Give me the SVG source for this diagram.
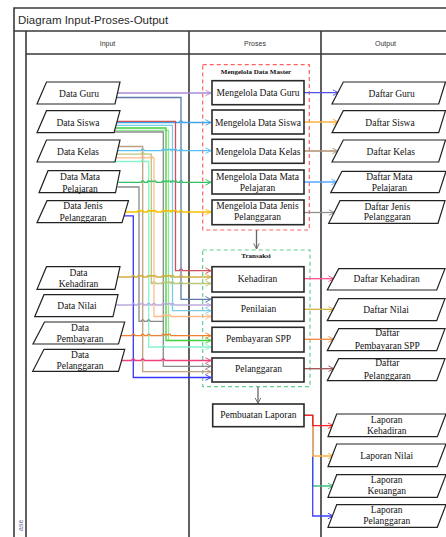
<svg xmlns="http://www.w3.org/2000/svg" width="446" height="537" viewBox="0 0 446 537">
<defs>
<style>
.frame{fill:none;stroke:#3a3a3a;stroke-width:1.6}
.title{font-family:"Liberation Sans",Arial,sans-serif;font-size:11.5px;fill:#2a2a2a}
.hdr{font-family:"Liberation Sans",Arial,sans-serif;font-size:7px;fill:#333;text-anchor:middle}
.para{fill:#fff;stroke:#222;stroke-width:1.2}
.box{fill:#fff;stroke:#2a2a2a;stroke-width:1.6}
.t{font-family:"Liberation Serif","Times New Roman",serif;font-size:9.5px;fill:#111;text-anchor:middle}
.gt{font-family:"Liberation Serif","Times New Roman",serif;font-size:7px;font-weight:bold;fill:#111;text-anchor:middle}
.grp-m{fill:none;stroke:#ff6060;stroke-width:1.2;stroke-dasharray:4 3}
.grp-t{fill:none;stroke:#60d090;stroke-width:1.2;stroke-dasharray:4 3}
.c{fill:none;stroke-width:1.3}
.ah{fill:none;stroke-width:1.3}
</style>
<marker id="m-purple" viewBox="0 0 10 10" refX="9" refY="5" markerWidth="7" markerHeight="7" markerUnits="userSpaceOnUse" orient="auto"><path d="M1,1 L9,5 L1,9" class="ah" stroke="#a98bd4"/></marker>
<marker id="m-slate" viewBox="0 0 10 10" refX="9" refY="5" markerWidth="7" markerHeight="7" markerUnits="userSpaceOnUse" orient="auto"><path d="M1,1 L9,5 L1,9" class="ah" stroke="#5b7bab"/></marker>
<marker id="m-red" viewBox="0 0 10 10" refX="9" refY="5" markerWidth="7" markerHeight="7" markerUnits="userSpaceOnUse" orient="auto"><path d="M1,1 L9,5 L1,9" class="ah" stroke="#d0505a"/></marker>
<marker id="m-blue" viewBox="0 0 10 10" refX="9" refY="5" markerWidth="7" markerHeight="7" markerUnits="userSpaceOnUse" orient="auto"><path d="M1,1 L9,5 L1,9" class="ah" stroke="#3aa6e6"/></marker>
<marker id="m-lblue" viewBox="0 0 10 10" refX="9" refY="5" markerWidth="7" markerHeight="7" markerUnits="userSpaceOnUse" orient="auto"><path d="M1,1 L9,5 L1,9" class="ah" stroke="#78cce8"/></marker>
<marker id="m-green" viewBox="0 0 10 10" refX="9" refY="5" markerWidth="7" markerHeight="7" markerUnits="userSpaceOnUse" orient="auto"><path d="M1,1 L9,5 L1,9" class="ah" stroke="#40d040"/></marker>
<marker id="m-gray" viewBox="0 0 10 10" refX="9" refY="5" markerWidth="7" markerHeight="7" markerUnits="userSpaceOnUse" orient="auto"><path d="M1,1 L9,5 L1,9" class="ah" stroke="#8a8a8a"/></marker>
<marker id="m-tan" viewBox="0 0 10 10" refX="9" refY="5" markerWidth="7" markerHeight="7" markerUnits="userSpaceOnUse" orient="auto"><path d="M1,1 L9,5 L1,9" class="ah" stroke="#c0a080"/></marker>
<marker id="m-sky" viewBox="0 0 10 10" refX="9" refY="5" markerWidth="7" markerHeight="7" markerUnits="userSpaceOnUse" orient="auto"><path d="M1,1 L9,5 L1,9" class="ah" stroke="#58c0f0"/></marker>
<marker id="m-olive" viewBox="0 0 10 10" refX="9" refY="5" markerWidth="7" markerHeight="7" markerUnits="userSpaceOnUse" orient="auto"><path d="M1,1 L9,5 L1,9" class="ah" stroke="#b8c878"/></marker>
<marker id="m-peach" viewBox="0 0 10 10" refX="9" refY="5" markerWidth="7" markerHeight="7" markerUnits="userSpaceOnUse" orient="auto"><path d="M1,1 L9,5 L1,9" class="ah" stroke="#ffbc88"/></marker>
<marker id="m-mint" viewBox="0 0 10 10" refX="9" refY="5" markerWidth="7" markerHeight="7" markerUnits="userSpaceOnUse" orient="auto"><path d="M1,1 L9,5 L1,9" class="ah" stroke="#88f4cc"/></marker>
<marker id="m-green2" viewBox="0 0 10 10" refX="9" refY="5" markerWidth="7" markerHeight="7" markerUnits="userSpaceOnUse" orient="auto"><path d="M1,1 L9,5 L1,9" class="ah" stroke="#30c060"/></marker>
<marker id="m-yellow" viewBox="0 0 10 10" refX="9" refY="5" markerWidth="7" markerHeight="7" markerUnits="userSpaceOnUse" orient="auto"><path d="M1,1 L9,5 L1,9" class="ah" stroke="#f5c000"/></marker>
<marker id="m-blue2" viewBox="0 0 10 10" refX="9" refY="5" markerWidth="7" markerHeight="7" markerUnits="userSpaceOnUse" orient="auto"><path d="M1,1 L9,5 L1,9" class="ah" stroke="#3535ff"/></marker>
<marker id="m-gold" viewBox="0 0 10 10" refX="9" refY="5" markerWidth="7" markerHeight="7" markerUnits="userSpaceOnUse" orient="auto"><path d="M1,1 L9,5 L1,9" class="ah" stroke="#d4b040"/></marker>
<marker id="m-lav" viewBox="0 0 10 10" refX="9" refY="5" markerWidth="7" markerHeight="7" markerUnits="userSpaceOnUse" orient="auto"><path d="M1,1 L9,5 L1,9" class="ah" stroke="#bcacdc"/></marker>
<marker id="m-orange" viewBox="0 0 10 10" refX="9" refY="5" markerWidth="7" markerHeight="7" markerUnits="userSpaceOnUse" orient="auto"><path d="M1,1 L9,5 L1,9" class="ah" stroke="#f08030"/></marker>
<marker id="m-pink" viewBox="0 0 10 10" refX="9" refY="5" markerWidth="7" markerHeight="7" markerUnits="userSpaceOnUse" orient="auto"><path d="M1,1 L9,5 L1,9" class="ah" stroke="#f04080"/></marker>
<marker id="m-oblue" viewBox="0 0 10 10" refX="9" refY="5" markerWidth="7" markerHeight="7" markerUnits="userSpaceOnUse" orient="auto"><path d="M1,1 L9,5 L1,9" class="ah" stroke="#5050e8"/></marker>
<marker id="m-oorange" viewBox="0 0 10 10" refX="9" refY="5" markerWidth="7" markerHeight="7" markerUnits="userSpaceOnUse" orient="auto"><path d="M1,1 L9,5 L1,9" class="ah" stroke="#ffb040"/></marker>
<marker id="m-obrown" viewBox="0 0 10 10" refX="9" refY="5" markerWidth="7" markerHeight="7" markerUnits="userSpaceOnUse" orient="auto"><path d="M1,1 L9,5 L1,9" class="ah" stroke="#b09070"/></marker>
<marker id="m-olblue" viewBox="0 0 10 10" refX="9" refY="5" markerWidth="7" markerHeight="7" markerUnits="userSpaceOnUse" orient="auto"><path d="M1,1 L9,5 L1,9" class="ah" stroke="#50a8ff"/></marker>
<marker id="m-ogray" viewBox="0 0 10 10" refX="9" refY="5" markerWidth="7" markerHeight="7" markerUnits="userSpaceOnUse" orient="auto"><path d="M1,1 L9,5 L1,9" class="ah" stroke="#909090"/></marker>
<marker id="m-opink" viewBox="0 0 10 10" refX="9" refY="5" markerWidth="7" markerHeight="7" markerUnits="userSpaceOnUse" orient="auto"><path d="M1,1 L9,5 L1,9" class="ah" stroke="#ff5090"/></marker>
<marker id="m-ogold" viewBox="0 0 10 10" refX="9" refY="5" markerWidth="7" markerHeight="7" markerUnits="userSpaceOnUse" orient="auto"><path d="M1,1 L9,5 L1,9" class="ah" stroke="#d4b040"/></marker>
<marker id="m-oorg2" viewBox="0 0 10 10" refX="9" refY="5" markerWidth="7" markerHeight="7" markerUnits="userSpaceOnUse" orient="auto"><path d="M1,1 L9,5 L1,9" class="ah" stroke="#f08840"/></marker>
<marker id="m-obrn2" viewBox="0 0 10 10" refX="9" refY="5" markerWidth="7" markerHeight="7" markerUnits="userSpaceOnUse" orient="auto"><path d="M1,1 L9,5 L1,9" class="ah" stroke="#a05050"/></marker>
<marker id="m-lred" viewBox="0 0 10 10" refX="9" refY="5" markerWidth="7" markerHeight="7" markerUnits="userSpaceOnUse" orient="auto"><path d="M1,1 L9,5 L1,9" class="ah" stroke="#ff2020"/></marker>
<marker id="m-lgreen" viewBox="0 0 10 10" refX="9" refY="5" markerWidth="7" markerHeight="7" markerUnits="userSpaceOnUse" orient="auto"><path d="M1,1 L9,5 L1,9" class="ah" stroke="#40c080"/></marker>
<marker id="m-dgray" viewBox="0 0 10 10" refX="9" refY="5" markerWidth="7" markerHeight="7" markerUnits="userSpaceOnUse" orient="auto"><path d="M1,1 L9,5 L1,9" class="ah" stroke="#666"/></marker>
</defs>
<rect width="446" height="537" fill="#fff"/>

<g id="frame">
<path class="frame" d="M14,537 V8 H446 M14,31 H446 M26,31 V537 M26,54 H446 M189,31 V537 M321,31 V537"/>
<text class="title" x="18" y="24">Diagram Input-Proses-Output</text>
<text class="hdr" x="107.5" y="46">Input</text>
<text class="hdr" x="255" y="46">Proses</text>
<text class="hdr" x="385.5" y="46">Output</text>
<text class="hdr" x="0" y="0" transform="translate(22.5,531) rotate(-90)" style="text-anchor:start;fill:#6a6aa0">ase</text>
</g>

<g id="group-master"><rect class="grp-m" x="202.7" y="64.7" width="106.6" height="165.3"/><text class="gt" x="256" y="73.5">Mengelola Data Master</text></g>
<g id="group-transaksi"><rect class="grp-t" x="202.7" y="250" width="107.3" height="136.7"/><text class="gt" x="256" y="258">Transaksi</text></g>

<g id="connectors">
<path class="c" stroke="#a98bd4" d="M117.5,93 H211" marker-end="url(#m-purple)"/>
<path class="c" stroke="#5b7bab" d="M116.5,97.5 H181 V299.3 H211" marker-end="url(#m-slate)"/>
<path class="c" stroke="#3aa6e6" d="M116.7,122.5 H179.5 a1.5,1.5 0 0 1 3,0 H211" marker-end="url(#m-blue)"/>
<path class="c" stroke="#d0505a" d="M116.7,121.3 H175.5 V270.7 H179.5 a1.5,1.5 0 0 1 3,0 H211" marker-end="url(#m-red)"/>
<path class="c" stroke="#78cce8" d="M115.6,125.3 H172.5 V310.7 H211" marker-end="url(#m-lblue)"/>
<path class="c" stroke="#90e890" d="M114.5,130.3 H168.5 V340.5"/>
<path class="c" stroke="#40d040" d="M114.8,128 H166 V340.5 H211" marker-end="url(#m-green)"/>
<path class="c" stroke="#8a8a8a" d="M113.6,132 H163.3 V366.3 H211" marker-end="url(#m-gray)"/>
<path class="c" stroke="#c0a080" d="M118.7,146.5 H142.7 V371.7 H211" marker-end="url(#m-tan)"/>
<path class="c" stroke="#58c0f0" d="M117.5,150.7 H141.2 a1.5,1.5 0 0 1 3,0 H161.8 a1.5,1.5 0 0 1 3,0 a1.5,1.5 0 0 1 3,0 a1.5,1.5 0 0 1 3,0 H171 a1.5,1.5 0 0 1 3,0 a1.5,1.5 0 0 1 3,0 H179.5 a1.5,1.5 0 0 1 3,0 H211" marker-end="url(#m-sky)"/>
<path class="c" stroke="#b8c878" d="M116.5,154.2 H141.2 a1.5,1.5 0 0 1 3,0 H151.3 V283.5 H152.5 a1.5,1.5 0 0 1 3,0 H161.8 a1.5,1.5 0 0 1 3,0 a1.5,1.5 0 0 1 3,0 a1.5,1.5 0 0 1 3,0 H171 a1.5,1.5 0 0 1 3,0 H179.5 a1.5,1.5 0 0 1 3,0 H211" marker-end="url(#m-olive)"/>
<path class="c" stroke="#ffbc88" d="M115.7,157.8 H141.2 a1.5,1.5 0 0 1 3,0 H149.8 a1.5,1.5 0 0 1 3,0 H154 V316.5 H161.8 a1.5,1.5 0 0 1 3,0 a1.5,1.5 0 0 1 3,0 a1.5,1.5 0 0 1 3,0 H211" marker-end="url(#m-peach)"/>
<path class="c" stroke="#88f4cc" d="M114.6,161.5 H141.2 a1.5,1.5 0 0 1 3,0 H148.7 V347 H161.8 a1.5,1.5 0 0 1 3,0 H211" marker-end="url(#m-mint)"/>
<path class="c" stroke="#30c060" d="M118.5,182.3 H141.2 a1.5,1.5 0 0 1 3,0 H147.2 a1.5,1.5 0 0 1 3,0 a1.5,1.5 0 0 1 3,0 a1.5,1.5 0 0 1 3,0 H161.8 a1.5,1.5 0 0 1 3,0 a1.5,1.5 0 0 1 3,0 a1.5,1.5 0 0 1 3,0 H171 a1.5,1.5 0 0 1 3,0 a1.5,1.5 0 0 1 3,0 H179.5 a1.5,1.5 0 0 1 3,0 H211" marker-end="url(#m-green2)"/>
<path class="c" stroke="#8a8a8a" d="M117.5,187 H139 V321.3 H141.2 a1.5,1.5 0 0 1 3,0 H147.2 a1.5,1.5 0 0 1 3,0 H163.3"/>
<path class="c" stroke="#f5c000" d="M126,212 H137.5 a1.5,1.5 0 0 1 3,0 a1.5,1.5 0 0 1 3,0 H147.2 a1.5,1.5 0 0 1 3,0 a1.5,1.5 0 0 1 3,0 a1.5,1.5 0 0 1 3,0 H161.8 a1.5,1.5 0 0 1 3,0 a1.5,1.5 0 0 1 3,0 a1.5,1.5 0 0 1 3,0 H171 a1.5,1.5 0 0 1 3,0 a1.5,1.5 0 0 1 3,0 H179.5 a1.5,1.5 0 0 1 3,0 H211" marker-end="url(#m-yellow)"/>
<path class="c" stroke="#3535ff" d="M123.5,215.8 H133.3 V377.5 H211" marker-end="url(#m-blue2)"/>
<path class="c" stroke="#d4b040" d="M117.5,277 H131.8 a1.5,1.5 0 0 1 3,0 H137.5 a1.5,1.5 0 0 1 3,0 a1.5,1.5 0 0 1 3,0 H147.2 a1.5,1.5 0 0 1 3,0 a1.5,1.5 0 0 1 3,0 a1.5,1.5 0 0 1 3,0 H161.8 a1.5,1.5 0 0 1 3,0 a1.5,1.5 0 0 1 3,0 a1.5,1.5 0 0 1 3,0 H171 a1.5,1.5 0 0 1 3,0 H179.5 a1.5,1.5 0 0 1 3,0 H211" marker-end="url(#m-gold)"/>
<path class="c" stroke="#bcacdc" d="M115,305 H131.8 a1.5,1.5 0 0 1 3,0 H137.5 a1.5,1.5 0 0 1 3,0 a1.5,1.5 0 0 1 3,0 H147.2 a1.5,1.5 0 0 1 3,0 H152.5 a1.5,1.5 0 0 1 3,0 H161.8 a1.5,1.5 0 0 1 3,0 a1.5,1.5 0 0 1 3,0 a1.5,1.5 0 0 1 3,0 H171 a1.5,1.5 0 0 1 3,0 H211" marker-end="url(#m-lav)"/>
<path class="c" stroke="#f08030" d="M121,335.7 H131.8 a1.5,1.5 0 0 1 3,0 H141.2 a1.5,1.5 0 0 1 3,0 H147.2 a1.5,1.5 0 0 1 3,0 H161.8 a1.5,1.5 0 0 1 3,0 a1.5,1.5 0 0 1 3,0 a1.5,1.5 0 0 1 3,0 H211" marker-end="url(#m-orange)"/>
<path class="c" stroke="#f04080" d="M121,360.5 H131.8 a1.5,1.5 0 0 1 3,0 H141.2 a1.5,1.5 0 0 1 3,0 H161.8 a1.5,1.5 0 0 1 3,0 H211" marker-end="url(#m-pink)"/>

<path class="c" stroke="#5050e8" d="M304,92.7 H338.5" marker-end="url(#m-oblue)"/>
<path class="c" stroke="#ffb040" d="M304,122 H338.5" marker-end="url(#m-oorange)"/>
<path class="c" stroke="#b09070" d="M304,151 H338" marker-end="url(#m-obrown)"/>
<path class="c" stroke="#50a8ff" d="M304,182 H337" marker-end="url(#m-olblue)"/>
<path class="c" stroke="#909090" d="M304,212.5 H334.5" marker-end="url(#m-ogray)"/>
<path class="c" stroke="#ff5090" d="M304,278.7 H334" marker-end="url(#m-opink)"/>
<path class="c" stroke="#d4b040" d="M304,309.3 H334" marker-end="url(#m-ogold)"/>
<path class="c" stroke="#f08840" d="M304,339.3 H334" marker-end="url(#m-oorg2)"/>
<path class="c" stroke="#a05050" d="M304,368.7 H334" marker-end="url(#m-obrn2)"/>

<path class="c" stroke="#666" d="M256.5,230 V249" marker-end="url(#m-dgray)"/>
<path class="c" stroke="#666" d="M258,386.7 V403.5" marker-end="url(#m-dgray)"/>

<path class="c" stroke="#40c080" d="M304,415.3 H312.7 V486 H333.5" marker-end="url(#m-lgreen)"/>
<path class="c" stroke="#4040ff" d="M304,415.3 H312.7 V516 H333.5" marker-end="url(#m-blue2)"/>
<path class="c" stroke="#ffb040" d="M304,415.3 H312.7 V456 H333.5" marker-end="url(#m-oorange)"/>
<path class="c" stroke="#ff2020" d="M304,415.3 H312.7 V425.7 H333.5" marker-end="url(#m-lred)"/>
</g>

<g id="in-guru"><polygon class="para" points="46.5,82 120,82 115,104 37,104"/><text class="t" x="79" y="96.5">Data Guru</text></g>
<g id="in-siswa"><polygon class="para" points="46.5,110.7 120,110.7 114,132.7 37,132.7"/><text class="t" x="78" y="125.5">Data Siswa</text></g>
<g id="in-kelas"><polygon class="para" points="46.5,140 120,140 115,162 37,162"/><text class="t" x="78" y="154.5">Data Kelas</text></g>
<g id="in-mapel"><polygon class="para" points="48,170.7 120,170.7 115.5,192.7 39,192.7"/><text class="t" x="80" y="180">Data Mata</text><text class="t" x="80" y="191.5">Pelajaran</text></g>
<g id="in-jenis"><polygon class="para" points="47,200.7 128.5,200.7 122,222.7 37,222.7"/><text class="t" x="83" y="209">Data Jenis</text><text class="t" x="83" y="220.5">Pelanggaran</text></g>
<g id="in-kehadiran"><polygon class="para" points="46.5,266.7 120,266.7 115,289.3 37,289.3"/><text class="t" x="78.5" y="275.8">Data</text><text class="t" x="78.5" y="287">Kehadiran</text></g>
<g id="in-nilai"><polygon class="para" points="44,294.7 118,294.7 113,316.7 34.7,316.7"/><text class="t" x="77" y="308.8">Data Nilai</text></g>
<g id="in-pembayaran"><polygon class="para" points="44.5,322 124.7,322 118.5,344 33,344"/><text class="t" x="80" y="330.8">Data</text><text class="t" x="80" y="342">Pembayaran</text></g>
<g id="in-pelanggaran"><polygon class="para" points="44,349.3 124.7,349.3 118.5,371.3 32.7,371.3"/><text class="t" x="80" y="358.2">Data</text><text class="t" x="80" y="369.4">Pelanggaran</text></g>

<g id="p-guru"><rect class="box" x="212" y="80.7" width="92" height="24"/><text class="t" x="258" y="96.3">Mengelola Data Guru</text></g>
<g id="p-siswa"><rect class="box" x="212" y="110" width="92" height="24"/><text class="t" x="258" y="125.5">Mengelola Data Siswa</text></g>
<g id="p-kelas"><rect class="box" x="212" y="139.3" width="92" height="24"/><text class="t" x="258" y="155">Mengelola Data Kelas</text></g>
<g id="p-mapel"><rect class="box" x="212" y="170" width="92" height="24"/><text class="t" x="257.5" y="179.5">Mengelola Data Mata</text><text class="t" x="257.5" y="191">Pelajaran</text></g>
<g id="p-jenis"><rect class="box" x="212" y="200" width="92" height="24.7"/><text class="t" x="257.5" y="209">Mengelola Data Jenis</text><text class="t" x="257.5" y="219.8">Pelanggaran</text></g>
<g id="p-kehadiran"><rect class="box" x="212" y="266.7" width="92" height="25.3"/><text class="t" x="257.5" y="282.2">Kehadiran</text></g>
<g id="p-penilaian"><rect class="box" x="212" y="297.3" width="92" height="24"/><text class="t" x="258.5" y="312.3">Penilaian</text></g>
<g id="p-pembayaran"><rect class="box" x="212" y="327.3" width="92" height="24.7"/><text class="t" x="258.5" y="342.3">Pembayaran SPP</text></g>
<g id="p-pelanggaran"><rect class="box" x="212" y="358" width="92" height="24"/><text class="t" x="258.5" y="372.3">Pelanggaran</text></g>
<g id="p-laporan"><rect class="box" x="212.7" y="404" width="91.3" height="22.7"/><text class="t" x="258.3" y="418">Pembuatan Laporan</text></g>

<g id="out-guru"><polygon class="para" points="343.3,82 445.5,82 438.7,104 332,104"/><text class="t" x="391.7" y="96.5">Daftar Guru</text></g>
<g id="out-siswa"><polygon class="para" points="343.3,110.7 445.5,110.7 438.7,132.7 332,132.7"/><text class="t" x="390" y="125.5">Daftar Siswa</text></g>
<g id="out-kelas"><polygon class="para" points="343.3,140 445.5,140 438.7,162 332,162"/><text class="t" x="390.7" y="154.5">Daftar Kelas</text></g>
<g id="out-mapel"><polygon class="para" points="342,171.3 446,171.3 439,192.7 330.7,192.7"/><text class="t" x="389.3" y="180">Daftar Mata</text><text class="t" x="389.3" y="191.2">Pelajaran</text></g>
<g id="out-jenis"><polygon class="para" points="340,200.7 445,200.7 438,223.3 328.7,223.3"/><text class="t" x="387.3" y="209.5">Daftar Jenis</text><text class="t" x="387.3" y="220.2">Pelanggaran</text></g>
<g id="out-kehadiran"><polygon class="para" points="338.7,268.7 445,268.7 436.7,290 327.3,290"/><text class="t" x="386.7" y="282.3">Daftar Kehadiran</text></g>
<g id="out-nilai"><polygon class="para" points="338.7,298.7 445,298.7 436.7,320.7 327.3,320.7"/><text class="t" x="386" y="313">Daftar Nilai</text></g>
<g id="out-pembayaran"><polygon class="para" points="338.7,328.7 445,328.7 436.7,350.7 327.3,350.7"/><text class="t" x="387.3" y="336">Daftar</text><text class="t" x="387.3" y="348.7">Pembayaran SPP</text></g>
<g id="out-pelanggaran"><polygon class="para" points="338.7,358.7 445,358.7 436.7,380.7 327.3,380.7"/><text class="t" x="387.3" y="366">Daftar</text><text class="t" x="387.3" y="378.7">Pelanggaran</text></g>
<g id="lap-kehadiran"><polygon class="para" points="336.7,414 446,414 437.3,436.7 328,436.7"/><text class="t" x="386.7" y="422.7">Laporan</text><text class="t" x="386.7" y="433.5">Kehadiran</text></g>
<g id="lap-nilai"><polygon class="para" points="336.7,444 446,444 437.3,466.7 328,466.7"/><text class="t" x="386.7" y="458.5">Laporan Nilai</text></g>
<g id="lap-keuangan"><polygon class="para" points="336.7,474.7 446,474.7 437.3,497.3 328,497.3"/><text class="t" x="386.7" y="482.7">Laporan</text><text class="t" x="386.7" y="493.5">Keuangan</text></g>
<g id="lap-pelanggaran"><polygon class="para" points="336.7,504.7 446,504.7 437.3,527.3 328,527.3"/><text class="t" x="386.7" y="512.7">Laporan</text><text class="t" x="386.7" y="523.5">Pelanggaran</text></g>
</svg>
